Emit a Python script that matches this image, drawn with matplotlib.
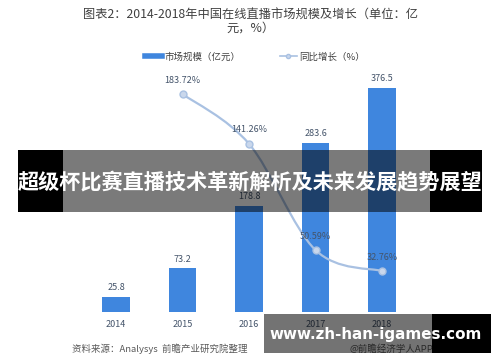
import matplotlib.pyplot as plt
from matplotlib.patches import Rectangle
from matplotlib.path import Path
from matplotlib.patches import PathPatch
from matplotlib.lines import Line2D

plt.rcParams['font.family'] = ['Noto Sans CJK SC', 'DejaVu Sans']

# 数据
years = ['2014', '2015', '2016', '2017', '2018']
scale = [25.8, 73.2, 178.8, 283.6, 376.5]
growth_years = [1, 2, 3, 4]
growth = [183.72, 141.26, 50.59, 32.76]

bar_color = '#3f86de'
line_color = '#a9c1e2'
label_color = '#44546a'

fig = plt.figure(figsize=(5, 3.62), dpi=100)
W, H = 500, 362


def fig_box(x0, y0, x1, y1):
    # 像素坐标(左上为原点) -> figure 坐标
    return [x0 / W, 1 - y1 / H, (x1 - x0) / W, (y1 - y0) / H]


ax = fig.add_axes(fig_box(82.75, 70, 415.25, 312))
ax2 = ax.twinx()

x = list(range(len(years)))
bars = ax.bar(x, scale, width=0.41, color=bar_color, zorder=2)
for xi, v in zip(x, scale):
    ax.text(xi, v + 8, f'{v}', ha='center', va='bottom', fontsize=6.5,
            color=label_color)

ax.set_xlim(-0.5, 4.5)
ax.set_ylim(0, 406.7)
ax.set_xticks(x)
ax.set_xticklabels(years, fontsize=6.5, color=label_color)
ax.tick_params(axis='x', length=0, pad=6)
ax.set_yticks([])
for s in ax.spines.values():
    s.set_visible(False)

# 平滑曲线 (Catmull-Rom -> Bezier)
pts = list(zip(growth_years, growth))
verts = [pts[0]]
codes = [Path.MOVETO]
for i in range(len(pts) - 1):
    p0 = pts[i - 1] if i > 0 else pts[i]
    p1 = pts[i]
    p2 = pts[i + 1]
    p3 = pts[i + 2] if i + 2 < len(pts) else pts[i + 1]
    c1 = (p1[0] + (p2[0] - p0[0]) / 6, p1[1] + (p2[1] - p0[1]) / 6)
    c2 = (p2[0] - (p3[0] - p1[0]) / 6, p2[1] - (p3[1] - p1[1]) / 6)
    verts += [c1, c2, p2]
    codes += [Path.CURVE4] * 3
ax2.add_patch(PathPatch(Path(verts, codes), facecolor='none',
                        edgecolor=line_color, lw=1.6, zorder=3))
ax2.plot(growth_years, growth, linestyle='none', marker='o', markersize=5,
         markerfacecolor='#c9d7ec', markeredgecolor=line_color, zorder=4)
for xi, v in zip(growth_years, growth):
    ax2.text(xi, v + 8, f'{v:.2f}%', ha='center', va='bottom', fontsize=6.5,
             color=label_color, zorder=5)
ax2.set_ylim(-2.2, 204.2)
ax2.set_yticks([])
for s in ax2.spines.values():
    s.set_visible(False)

# 标题
fig.text(0.5, 1 - 15 / H, '图表2：2014-2018年中国在线直播市场规模及增长（单位：亿',
         ha='center', va='center', fontsize=8.8, color='#404040')
fig.text(0.5, 1 - 28 / H, '元，%）', ha='center', va='center',
         fontsize=8.8, color='#404040')

# 图例
handles = [Line2D([0], [0], color=bar_color, lw=4),
           Line2D([0], [0], color=line_color, lw=1.2, marker='o',
                  markersize=3, markerfacecolor='#c9d7ec')]
fig.legend(handles, ['市场规模（亿元）', '同比增长（%）'], loc='center',
           bbox_to_anchor=(0.51, 1 - 57 / H), ncol=2, frameon=False,
           fontsize=6.8, handlelength=1.8, handletextpad=0.2,
           columnspacing=4.2, labelcolor='#404040')

# 来源
fig.text(72 / W, 1 - 349 / H, '资料来源：Analysys  前瞻产业研究院整理',
         ha='left', va='center', fontsize=6.8, color='#595959', style='italic')
fig.text(350 / W, 1 - 349 / H, '@前瞻经济学人APP', ha='left', va='center',
         fontsize=6.8, color='#595959')

# 横幅遮罩
fig.add_artist(Rectangle(fig_box(18, 150, 63, 212)[:2], 45 / W, 62 / H,
                         transform=fig.transFigure, color='black', lw=0,
                         zorder=10))
fig.add_artist(Rectangle(fig_box(430, 150, 482, 212)[:2], 52 / W, 62 / H,
                         transform=fig.transFigure, color='black', lw=0,
                         zorder=10))
fig.add_artist(Rectangle(fig_box(63, 150, 430, 212)[:2], 367 / W, 62 / H,
                         transform=fig.transFigure, color='black', alpha=0.52,
                         lw=0, zorder=10))
fig.text(0.5, 1 - 183 / H, '超级杯比赛直播技术革新解析及未来发展趋势展望',
         ha='center', va='center', fontsize=15.2, fontweight='bold',
         color='white', zorder=11)

# 右下角网址
fig.add_artist(Rectangle(fig_box(264, 314, 432, 353)[:2], 168 / W, 39 / H,
                         transform=fig.transFigure, color='black', alpha=0.55,
                         lw=0, zorder=10))
fig.add_artist(Rectangle(fig_box(432, 314, 491, 353)[:2], 59 / W, 39 / H,
                         transform=fig.transFigure, color='black', lw=0,
                         zorder=10))
fig.text(376 / W, 1 - 335 / H, 'www.zh-han-igames.com', ha='center',
         va='center', fontsize=10.9, fontweight='bold', color='white',
         family='DejaVu Sans', zorder=11)

fig.savefig('out.png', dpi=100)
